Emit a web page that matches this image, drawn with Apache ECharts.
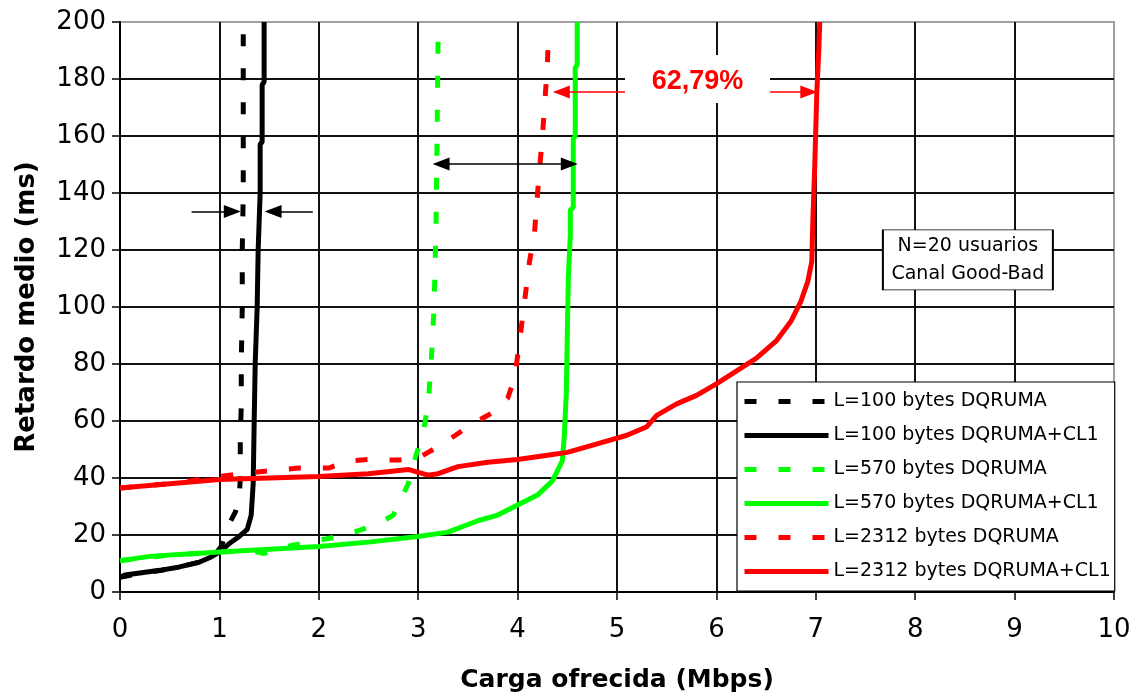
<!DOCTYPE html>
<html><head><meta charset="utf-8">
<script src="https://cdn.jsdelivr.net/npm/echarts@6/dist/echarts.min.js"></script>
<style>html,body{margin:0;padding:0;background:#fff}#c{width:1134px;height:694px}</style>
</head><body><div id="c"></div>
<script>
// ---- data (x: Mbps, y: ms) ----
const seriesNames = ['L=100 bytes DQRUMA','L=100 bytes DQRUMA+CL1','L=570 bytes DQRUMA','L=570 bytes DQRUMA+CL1','L=2312 bytes DQRUMA','L=2312 bytes DQRUMA+CL1'];
const l100Dq = [[0,5.2],[0.2,6.5],[0.4,7.5],[0.6,8.8],[0.8,10.5],[0.95,13],[1.02,16],[1.06,20],[1.1,24],[1.16,28],[1.2,33],[1.21,40],[1.21,55],[1.22,65],[1.22,80],[1.23,100],[1.23,120],[1.24,140],[1.24,160],[1.24,180],[1.24,200]];
const l100Cl = [[0,5.2],[0.05,6],[0.2,6.7],[0.4,7.6],[0.6,8.8],[0.8,10.5],[0.9,12],[1.0,14],[1.1,17],[1.2,19.5],[1.28,22],[1.32,27],[1.34,38],[1.35,60],[1.36,80],[1.38,100],[1.39,120],[1.41,140],[1.41,157],[1.43,158],[1.43,178],[1.45,179],[1.45,200]];
const l570Dq = [[0,11],[0.5,13],[1.0,14],[1.3,14.5],[1.45,13.5],[1.6,15.5],[1.9,17.5],[2.2,19.5],[2.4,21.5],[2.6,24],[2.75,27],[2.82,32],[2.9,38],[2.97,47],[3.05,56],[3.1,66],[3.13,80],[3.16,100],[3.18,130],[3.19,160],[3.2,194]];
const l570Cl = [[0,11],[0.3,12.5],[0.6,13.2],[1.0,14],[1.5,15],[2.0,16],[2.5,17.5],[3.0,19.5],[3.3,21],[3.6,25],[3.8,27],[4.0,30.5],[4.2,34],[4.35,39],[4.45,46],[4.47,55],[4.49,70],[4.5,90],[4.51,110],[4.53,125],[4.53,134],[4.56,135],[4.56,159],[4.58,160],[4.58,184],[4.6,185],[4.6,200]];
const l2312Dq = [[0,36.5],[0.5,38],[0.9,40],[1.2,41.5],[1.5,42.5],[1.8,43.5],[2.1,43.5],[2.3,46],[2.5,46.5],[2.8,46.3],[3.0,47],[3.1,49],[3.25,52],[3.5,58],[3.75,63],[3.9,68],[3.97,75],[4.02,88],[4.07,102],[4.12,116],[4.17,126],[4.21,144],[4.25,160],[4.28,175],[4.3,185],[4.31,196]];
const l2312Cl = [[0,36.5],[0.5,38],[1.0,39.5],[1.5,40],[2.0,40.5],[2.5,41.5],[2.9,43],[3.0,42],[3.1,41],[3.2,41.5],[3.4,44],[3.7,45.5],[4.0,46.5],[4.3,48],[4.5,49],[4.8,52],[5.1,55],[5.3,58],[5.4,62],[5.6,66],[5.8,69],[6.0,73],[6.2,77.5],[6.4,82],[6.6,88],[6.75,95],[6.85,102],[6.92,109],[6.96,116],[6.97,130],[6.99,150],[7.01,175],[7.03,190],[7.04,200]];
const seriesData = [l100Dq, l100Cl, l570Dq, l570Cl, l2312Dq, l2312Cl];

// annotations (data units)
const arrowsBlack = [
  {from:[0.72,133.5], to:[1.13,133.5], both:false},
  {from:[1.94,133.5], to:[1.54,133.5], both:false},
  {from:[3.23,150.2], to:[4.52,150.2], both:true}
];
const arrowsRed = [
  {from:[5.08,175.4], to:[4.44,175.4], both:false},
  {from:[6.54,175.4], to:[6.93,175.4], both:false}
];
const pctLabel = {text:'62,79%', at:[5.81,180]};
const infoLabel = {text:'N=20 usuarios\nCanal Good-Bad', at:[8.53,116.5]};

// ---- styles ----
const colors = ['#000000','#000000','#00ff00','#00ff00','#ff0000','#ff0000'];
const dashed = [true,false,true,false,true,false];

function arrowItems(list, color){
  return list.map(a => [
    {coord:a.from, symbol:a.both?'triangle':'none', symbolSize:[13,17], lineStyle:{color:color,width:1.6,type:'solid'}},
    {coord:a.to, symbol:'triangle', symbolSize:[13,17]}
  ]);
}

const series = seriesData.map((d,i) => ({
  name: seriesNames[i],
  type: 'line',
  data: d,
  symbol: 'none',
  smooth: false,
  animation: false,
  z: 2 + i*0.01,
  lineStyle: {color: colors[i], width: 5, type: dashed[i] ? [12,22] : 'solid', cap:'butt'},
  itemStyle: {color: colors[i]},
  emphasis: {disabled: true}
}));

// annotations on a helper series
series.push({
  type:'line', data:[], symbol:'none', silent:true, animation:false, z:5,
  markLine: {
    silent:true, animation:false, label:{show:false}, emphasis:{disabled:true},
    data: arrowItems(arrowsBlack,'#000').concat(arrowItems(arrowsRed,'#ff0000'))
  },
  markPoint: {
    silent:true, animation:false,
    data: [
      {coord:pctLabel.at, symbol:'rect', symbolSize:[145,48], itemStyle:{color:'#fff'},
       label:{show:true, position:'inside', formatter:pctLabel.text, color:'#ff0000', fontFamily:'Liberation Sans', fontWeight:'bold', fontSize:27, offset:[0,3]}},
      {coord:infoLabel.at, symbol:'rect', symbolSize:[170,60], itemStyle:{color:'#fff', borderColor:'#000', borderWidth:1.2},
       label:{show:true, position:'inside', formatter:infoLabel.text, color:'#000', fontFamily:'DejaVu Sans', fontSize:19, lineHeight:28, align:'center'}}
    ]
  }
});

const chart = echarts.init(document.getElementById('c'), null, {renderer:'canvas'});
chart.setOption({
  backgroundColor:'#fff',
  animation:false,
  grid: {left:120, right:20, top:22, bottom:102, show:true, borderColor:'#a0a0a0', borderWidth:2, backgroundColor:'transparent', containLabel:false, outerBoundsMode:'none'},
  xAxis: {
    type:'value', min:0, max:10, interval:1,
    name:'Carga ofrecida (Mbps)', nameLocation:'middle', nameGap:76,
    nameTextStyle:{fontFamily:'DejaVu Sans', fontWeight:'bold', fontSize:25, color:'#000'},
    axisLine:{show:true, onZero:false, lineStyle:{color:'#000', width:2}},
    axisTick:{show:true, length:8, lineStyle:{color:'#000', width:1.5}},
    axisLabel:{fontFamily:'DejaVu Sans', fontSize:26, color:'#000', margin:25},
    splitLine:{show:true, showMaxLine:false, lineStyle:{color:'#111', width:2}}
  },
  yAxis: {
    type:'value', min:0, max:200, interval:20,
    name:'Retardo medio (ms)', nameLocation:'middle', nameGap:80,
    nameTextStyle:{fontFamily:'DejaVu Sans', fontWeight:'bold', fontSize:26, color:'#000'},
    axisLine:{show:true, onZero:false, lineStyle:{color:'#000', width:2}},
    axisTick:{show:true, length:8, lineStyle:{color:'#000', width:1.5}},
    axisLabel:{fontFamily:'DejaVu Sans', fontSize:26, color:'#000', margin:14},
    splitLine:{show:true, showMaxLine:false, lineStyle:{color:'#111', width:2}}
  },
  legend: {
    show:true, data:seriesNames, orient:'vertical', left:737, top:382,
    itemWidth:84, itemHeight:14, itemGap:13, selectedMode:false,
    padding:[9,4,9,5], backgroundColor:'#fff', borderColor:'#000', borderWidth:1.2,
    itemStyle:{opacity:0},
    lineStyle:{width:5},
    textStyle:{fontFamily:'DejaVu Sans', fontSize:19, color:'#000', lineHeight:21}
  },
  tooltip:{show:false},
  series: series
});
</script>
</body></html>
